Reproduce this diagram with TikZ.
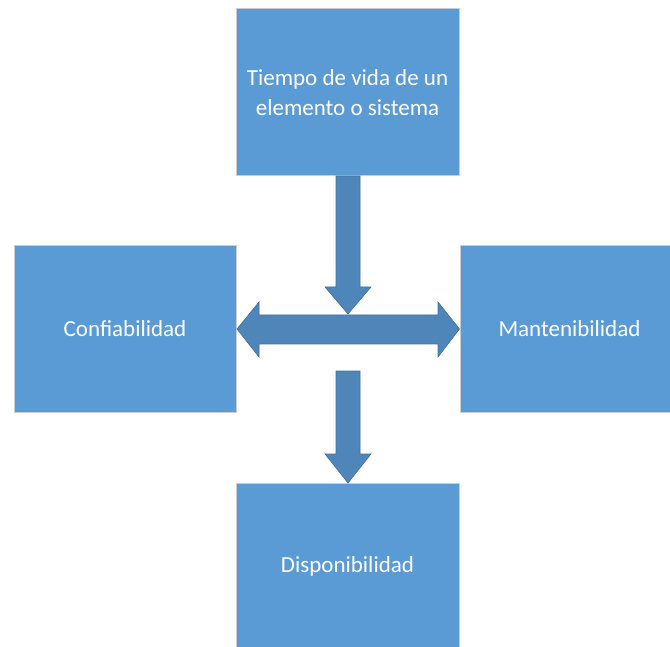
\documentclass[tikz,border=0pt]{standalone}
\usepackage{fontspec}
\setmainfont{Carlito}
\usetikzlibrary{calc}
\definecolor{boxblue}{HTML}{5B9BD5}
\definecolor{arrowblue}{HTML}{4E86B9}
\definecolor{arrowedge}{HTML}{41719C}
\definecolor{boxedge}{HTML}{C9CDD2}
\begin{document}
\begin{tikzpicture}[x=1pt,y=-1pt,
  box/.style={rectangle, fill=boxblue, draw=boxedge, line width=1pt, inner sep=0pt, outer sep=0pt,
    text=white, align=center, font=\fontsize{23}{30}\selectfont},
  blockarrow/.style={fill=arrowblue, draw=arrowedge, line width=0.6pt, line join=miter}]
\useasboundingbox (0,0) rectangle (670,647);
\clip (0,0) rectangle (670,647);
\node[box, minimum width=223pt, minimum height=167pt] (top) at (347.5,92.5) {Tiempo de vida de un\\elemento o sistema};
\node[box, minimum width=222pt, minimum height=166pt] (left) at (125,329) {Confiabilidad};
\node[box, minimum width=219pt, minimum height=166pt] (right) at (569.5,329) {Mantenibilidad};
\node[box, minimum width=223pt, minimum height=167pt] (bottom) at (347.5,566.5) {Disponibilidad};
\coordinate (T) at (top.south);
\coordinate (B) at (bottom.north);
\coordinate (L) at (left.east);
\coordinate (R) at (right.west);
% arrow from top box
\filldraw[blockarrow] ($(T)+(-11.5,0)$) -- ($(T)+(-11.5,111)$) -- ($(T)+(-22.5,111)$) -- ($(T)+(0.5,138)$)
  -- ($(T)+(23.5,111)$) -- ($(T)+(12.5,111)$) -- ($(T)+(12.5,0)$) -- cycle;
% double arrow between left and right boxes
\filldraw[blockarrow] ($(L)+(1,0)$) -- ($(L)+(23,-27)$) -- ($(L)+(23,-14)$) -- ($(R)+(-22,-14)$)
  -- ($(R)+(-22,-27)$) -- ($(R)+(-0.5,0)$) -- ($(R)+(-22,28)$) -- ($(R)+(-22,15)$)
  -- ($(L)+(23,15)$) -- ($(L)+(23,28)$) -- cycle;
% arrow to bottom box
\filldraw[blockarrow] ($(B)+(-11.5,-112)$) -- ($(B)+(-11.5,-29)$) -- ($(B)+(-22.5,-29)$) -- ($(B)+(0.5,0)$)
  -- ($(B)+(23.5,-29)$) -- ($(B)+(12.5,-29)$) -- ($(B)+(12.5,-112)$) -- cycle;
\end{tikzpicture}
\end{document}
